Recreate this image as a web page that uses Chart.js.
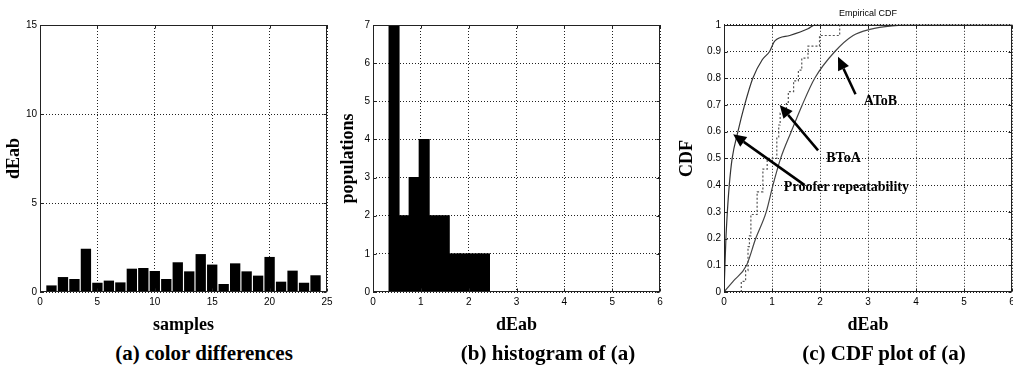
<!DOCTYPE html>
<html>
<head>
<meta charset="utf-8">
<script src="https://cdn.jsdelivr.net/npm/chart.js@4.4.0/dist/chart.umd.min.js"></script>
<style>
  body { margin: 0; background: #fff; }
  #page { position: relative; width: 1013px; height: 376px; overflow: hidden; background: #fff; }
  canvas { position: absolute; top: 0; }
  .caption { position: absolute; top: 341px; font: bold 21px "Liberation Serif", "Times New Roman", serif; white-space: nowrap; transform: translateX(-50%); color: #000; }
</style>
</head>
<body>
<div id="page">
  <canvas id="chart-a" width="340" height="340" style="left:0"></canvas>
  <canvas id="chart-b" width="340" height="340" style="left:335px"></canvas>
  <canvas id="chart-c" width="343" height="340" style="left:670px"></canvas>
  <div class="caption" style="left:204px">(a) color differences</div>
  <div class="caption" style="left:548px">(b) histogram of (a)</div>
  <div class="caption" style="left:884px">(c) CDF plot of (a)</div>
</div>
<script>
// (a) colour difference of each sample
const samples = [1, 2, 3, 4, 5, 6, 7, 8, 9, 10, 11, 12, 13, 14, 15, 16, 17, 18, 19, 20, 21, 22, 23, 24];
const sampleDEab = [0.37, 0.84, 0.73, 2.43, 0.52, 0.64, 0.54, 1.31, 1.35, 1.18, 0.73, 1.67,
                    1.16, 2.13, 1.54, 0.45, 1.61, 1.16, 0.92, 1.97, 0.58, 1.20, 0.52, 0.94];

// (b) histogram bins (centres) and counts
const binCenters = [0.44, 0.65, 0.86, 1.07, 1.28, 1.49, 1.70, 1.91, 2.12, 2.33];
const binCounts = [7, 2, 3, 4, 2, 2, 1, 1, 1, 1];

// (c) empirical CDF curves
const proofX = [0, 0.02, 0.04, 0.07, 0.11, 0.17, 0.29, 0.43, 0.60, 0.80, 0.95, 1.06, 1.37, 1.75, 1.90, 6];
const proofY = [0, 0.10, 0.20, 0.30, 0.40, 0.50, 0.60, 0.70, 0.80, 0.87, 0.90, 0.94, 0.96, 0.985, 1, 1];
const btoaX = [0.36, 0.36, 0.45, 0.50, 0.53, 0.56, 0.69, 0.81, 0.90, 1.10, 1.14, 1.17, 1.30, 1.34, 1.45, 1.55, 1.62, 1.75, 1.99, 2.41, 6];
const btoaY = [0, 0.04, 0.08, 0.17, 0.21, 0.29, 0.375, 0.46, 0.50, 0.58, 0.625, 0.67, 0.71, 0.75, 0.79, 0.83, 0.875, 0.92, 0.96, 1, 1];
const atobX = [0, 0.19, 0.47, 0.66, 0.88, 1.02, 1.18, 1.40, 1.63, 1.89, 2.31, 2.69, 3.04, 3.50, 4.20, 6];
const atobY = [0, 0.04, 0.10, 0.20, 0.30, 0.40, 0.50, 0.60, 0.70, 0.80, 0.90, 0.96, 0.983, 0.996, 1, 1];

// callouts on the CDF plot: label text, label position, arrow tail -> tip (data units)
const notes = [
  { text: 'AToB', at: [3.26, 0.715], from: [2.74, 0.74], to: [2.375, 0.88] },
  { text: 'BToA', at: [2.49, 0.50], from: [1.96, 0.53], to: [1.16, 0.70] },
  { text: 'Proofer repeatability', at: [2.55, 0.39], from: [1.68, 0.40], to: [0.19, 0.59] }
];

const tickFont = { family: '"Liberation Sans Narrow", "Liberation Sans", Arial, sans-serif', size: 10 };
const titleFont = { family: '"Liberation Serif", "Times New Roman", serif', size: 18, weight: 'bold' };

// matlab prints 0 and 1, not 0.0 and 1.0
const fmt = v => String(+v.toFixed(2));

function xAxis(min, max, step, text) {
  return {
    type: 'linear', min: min, max: max, offset: false,
    ticks: { stepSize: step, font: tickFont, color: '#000', padding: 4, maxRotation: 0, autoSkip: false, callback: fmt },
    grid: { color: '#222', lineWidth: 1, drawTicks: false, offset: false },
    border: { display: false, dash: [1, 2] },
    title: { display: true, text: text, font: titleFont, color: '#000', padding: { top: 0, bottom: 4 } },
    afterFit: s => { s.height = 48; s.paddingLeft = 0; s.paddingRight = 0; }
  };
}

function yAxis(min, max, step, text, width, pad) {
  return {
    type: 'linear', min: min, max: max,
    ticks: { stepSize: step, font: tickFont, color: '#000', padding: 3, autoSkip: false, callback: fmt },
    grid: { color: '#222', lineWidth: 1, drawTicks: false },
    border: { display: false, dash: [1, 2] },
    title: { display: true, text: text, font: titleFont, color: '#000', padding: { top: pad, bottom: 0 } },
    afterFit: s => { s.width = width; s.paddingTop = 0; s.paddingBottom = 0; }
  };
}

// matlab style box round the axes with small inward ticks
const frame = {
  id: 'frame',
  afterDatasetsDraw(chart) {
    const { ctx, chartArea: a, scales } = chart;
    const l = Math.round(a.left) + 0.5, r = Math.round(a.right) - 0.5;
    const t = Math.round(a.top) + 0.5, b = Math.round(a.bottom) - 0.5;
    ctx.save();
    ctx.strokeStyle = '#222';
    ctx.lineWidth = 1;
    ctx.strokeRect(l, t, r - l, b - t);
    ctx.beginPath();
    scales.x.ticks.forEach(tk => {
      const x = Math.round(scales.x.getPixelForValue(tk.value)) + 0.5;
      ctx.moveTo(x, b); ctx.lineTo(x, b - 3);
      ctx.moveTo(x, t); ctx.lineTo(x, t + 3);
    });
    scales.y.ticks.forEach(tk => {
      const y = Math.round(scales.y.getPixelForValue(tk.value)) + 0.5;
      ctx.moveTo(l, y); ctx.lineTo(l + 3, y);
      ctx.moveTo(r, y); ctx.lineTo(r - 3, y);
    });
    ctx.stroke();
    ctx.restore();
  }
};

// arrows and labels on the cdf plot
const callouts = {
  id: 'callouts',
  afterDatasetsDraw(chart) {
    const { ctx, scales: { x, y } } = chart;
    ctx.save();
    notes.forEach(n => {
      const x0 = x.getPixelForValue(n.from[0]), y0 = y.getPixelForValue(n.from[1]);
      const x1 = x.getPixelForValue(n.to[0]), y1 = y.getPixelForValue(n.to[1]);
      const ang = Math.atan2(y1 - y0, x1 - x0);
      const head = 13, half = 6;
      const bx = x1 - head * Math.cos(ang), by = y1 - head * Math.sin(ang);
      ctx.strokeStyle = '#000';
      ctx.lineWidth = 2.5;
      ctx.beginPath();
      ctx.moveTo(x0, y0);
      ctx.lineTo(bx, by);
      ctx.stroke();
      ctx.fillStyle = '#000';
      ctx.beginPath();
      ctx.moveTo(x1, y1);
      ctx.lineTo(bx + half * Math.sin(ang), by - half * Math.cos(ang));
      ctx.lineTo(bx - half * Math.sin(ang), by + half * Math.cos(ang));
      ctx.closePath();
      ctx.fill();

      ctx.font = 'bold 14px "Liberation Serif", "Times New Roman", serif';
      ctx.textAlign = 'center';
      ctx.textBaseline = 'middle';
      ctx.fillText(n.text, x.getPixelForValue(n.at[0]), y.getPixelForValue(n.at[1]));
    });
    ctx.restore();
  }
};

const pairs = (xs, ys) => xs.map((v, i) => ({ x: v, y: ys[i] }));

new Chart(document.getElementById('chart-a'), {
  type: 'bar',
  data: {
    datasets: [{
      data: pairs(samples, sampleDEab),
      backgroundColor: '#000',
      borderWidth: 0,
      barPercentage: 0.9,
      categoryPercentage: 1
    }]
  },
  options: {
    responsive: false,
    animation: false,
    layout: { padding: { top: 25, right: 13, left: 0, bottom: 0 } },
    plugins: { legend: { display: false }, tooltip: { enabled: false } },
    scales: {
      x: xAxis(0, 25, 5, 'samples'),
      y: yAxis(0, 15, 5, 'dEab', 40, 4)
    }
  },
  plugins: [frame]
});

new Chart(document.getElementById('chart-b'), {
  type: 'bar',
  data: {
    datasets: [{
      data: pairs(binCenters, binCounts),
      backgroundColor: '#000',
      borderWidth: 0,
      inflateAmount: 0.5,
      barPercentage: 1,
      categoryPercentage: 1
    }]
  },
  options: {
    responsive: false,
    animation: false,
    layout: { padding: { top: 25, right: 15, left: 0, bottom: 0 } },
    plugins: { legend: { display: false }, tooltip: { enabled: false } },
    scales: {
      x: xAxis(0, 6, 1, 'dEab'),
      y: yAxis(0, 7, 1, 'populations', 38, 3)
    }
  },
  plugins: [frame]
});

new Chart(document.getElementById('chart-c'), {
  type: 'line',
  data: {
    datasets: [
      { label: 'Proofer repeatability', data: pairs(proofX, proofY), borderColor: '#333', borderWidth: 1.2, pointRadius: 0, cubicInterpolationMode: 'monotone' },
      { label: 'BToA', data: pairs(btoaX, btoaY), borderColor: '#555', borderWidth: 1.2, borderDash: [2, 2], pointRadius: 0, stepped: true },
      { label: 'AToB', data: pairs(atobX, atobY), borderColor: '#444', borderWidth: 1.2, pointRadius: 0, cubicInterpolationMode: 'monotone' }
    ]
  },
  options: {
    responsive: false,
    animation: false,
    layout: { padding: { top: 0, right: 1, left: 0, bottom: 0 } },
    plugins: {
      legend: { display: false },
      tooltip: { enabled: false },
      title: {
        display: true, text: 'Empirical CDF', fullSize: false, color: '#000',
        font: { family: '"Liberation Sans Narrow", "Liberation Sans", Arial, sans-serif', size: 9, weight: 'normal' },
        padding: { top: 8, bottom: 6 }
      }
    },
    scales: {
      x: xAxis(0, 6, 1, 'dEab'),
      y: yAxis(0, 1, 0.1, 'CDF', 54, 7)
    }
  },
  plugins: [frame, callouts]
});
</script>
</body>
</html>
